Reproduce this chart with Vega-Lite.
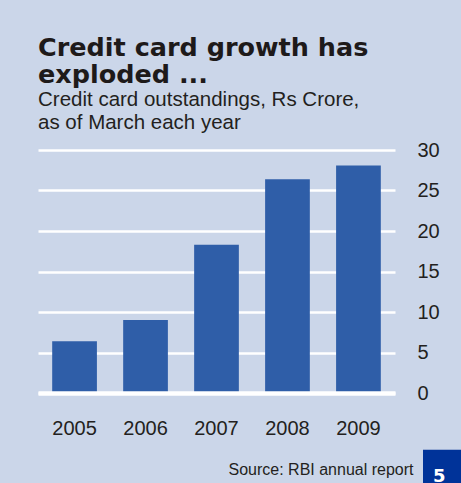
{
  "$schema": "https://vega.github.io/schema/vega-lite/v6.json",
  "width": 357,
  "height": 243,
  "padding": {"left": 38, "top": 35, "right": 0, "bottom": 0},
  "background": "#cbd6e9",
  "title": {
    "text": ["Credit card growth has", "exploded ..."],
    "subtitle": ["Credit card outstandings, Rs Crore,", "as of March each year"],
    "anchor": "start",
    "frame": "group",
    "font": "DejaVu Sans",
    "fontSize": 25.5,
    "fontWeight": "bold",
    "color": "#1e1a1a",
    "lineHeight": 27,
    "subtitleFont": "Liberation Sans",
    "subtitleFontSize": 20.5,
    "subtitleColor": "#231f20",
    "subtitleLineHeight": 22.5,
    "subtitlePadding": 2,
    "offset": 7
  },
  "data": {
    "values": [
      {"year": "2005", "value": 6.4, "series": "Credit card outstandings"},
      {"year": "2006", "value": 9.0, "series": "Credit card outstandings"},
      {"year": "2007", "value": 18.3, "series": "Credit card outstandings"},
      {"year": "2008", "value": 26.4, "series": "Credit card outstandings"},
      {"year": "2009", "value": 28.1, "series": "Credit card outstandings"}
    ]
  },
  "mark": {"type": "bar"},
  "encoding": {
    "x": {
      "field": "year",
      "type": "ordinal",
      "scale": {"paddingInner": 0.37, "paddingOuter": 0.2},
      "axis": {
        "title": "Source: RBI annual report",
        "titleX": 375,
        "titleY": 81,
        "titleAlign": "right",
        "titleAnchor": "end",
        "titleBaseline": "alphabetic",
        "titleFont": "Liberation Sans",
        "titleFontSize": 16,
        "titleFontWeight": "normal",
        "titleColor": "#231f20",
        "labelAngle": 0,
        "labelFont": "Liberation Sans",
        "labelFontSize": 20,
        "labelColor": "#231f20",
        "labelPadding": 25,
        "ticks": false,
        "domainColor": "#ffffff",
        "domainWidth": 4.5,
        "grid": false,
        "zindex": 1
      }
    },
    "y": {
      "field": "value",
      "type": "quantitative",
      "scale": {"domain": [0, 30], "nice": false},
      "axis": {
        "orient": "right",
        "title": null,
        "values": [0, 5, 10, 15, 20, 25, 30],
        "labelFont": "Liberation Sans",
        "labelFontSize": 20,
        "labelColor": "#231f20",
        "labelPadding": 22,
        "labelAlign": "left",
        "ticks": false,
        "domain": false,
        "grid": true,
        "gridColor": "#ffffff",
        "gridWidth": 2.5,
        "gridOpacity": 1,
        "zindex": 0
      }
    },
    "color": {
      "field": "series",
      "type": "nominal",
      "scale": {"range": ["#2f5ea8"]},
      "legend": {
        "orient": "none",
        "legendX": 385,
        "legendY": 299.7,
        "title": null,
        "fillColor": "#003399",
        "strokeColor": null,
        "padding": 18,
        "cornerRadius": 0,
        "symbolSize": 0,
        "symbolOpacity": 0,
        "symbolStrokeWidth": 0,
        "labelOffset": -26,
        "labelExpr": "'5'",
        "labelFont": "DejaVu Sans",
        "labelFontSize": 18,
        "labelFontWeight": "bold",
        "labelColor": "#ffffff"
      }
    }
  },
  "config": {"view": {"stroke": null}}
}
